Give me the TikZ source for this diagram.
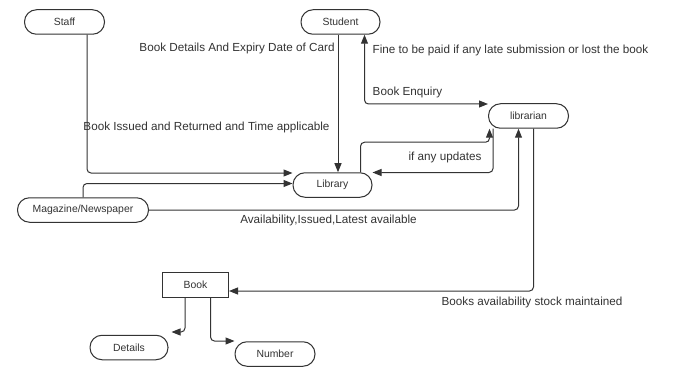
\documentclass[tikz,border=0pt]{standalone}
\usepackage{fontspec}
\setmainfont{Liberation Sans}
\usetikzlibrary{arrows.meta}
\definecolor{ink}{HTML}{333333}
\tikzset{
  pill/.style={draw=ink, line width=1pt, rounded corners=12pt, minimum width=80pt, minimum height=24.5pt, inner sep=0pt, text=ink, font=\fontsize{10.4}{12}\selectfont},
  boxnode/.style={draw=ink, line width=1pt, minimum width=66pt, minimum height=25pt, inner sep=0pt, text=ink, font=\fontsize{10.4}{12}\selectfont},
  lbl/.style={text=ink, inner sep=0pt, font=\fontsize{11.7}{14}\selectfont},
  conn/.style={draw=ink, line width=1pt, rounded corners=4pt},
  arr/.style={conn, -{Triangle[length=9pt,width=7pt]}},
  arrb/.style={conn, {Triangle[length=9pt,width=7pt]}-{Triangle[length=9pt,width=7pt]}}
}
\begin{document}
\begin{tikzpicture}[x=1pt,y=-1pt]
\useasboundingbox[fill=white] (0,0) rectangle (680,377);
% nodes
\node[pill] (staff) at (64.5,22) {Staff};
\node[pill, minimum width=79pt] (student) at (340.5,22) {Student};
\node[pill] (librarian) at (528.5,116) {librarian};
\node[pill, minimum width=79pt] (library) at (332.5,185) {Library};
\node[pill, minimum width=131pt] (mag) at (83,210) {Magazine/Newspaper};
\node[boxnode] (book) at (195.5,284.5) {Book};
\node[pill, minimum width=78pt] (details) at (129,347.5) {Details};
\node[pill] (number) at (275,354) {Number};
% helper coordinates
\coordinate (s1) at ([xshift=-2.5pt]student.south);
% connectors
\draw[arr] ([xshift=22.5pt]staff.south) |- ([yshift=12pt]library.west);
\draw[arr] (mag.north) |- ([yshift=1.5pt]library.west);
\draw[arr] (mag.east) -| ([xshift=-10pt]librarian.south);
\draw[arr] ([xshift=5pt]librarian.south) |- ([yshift=-6.5pt]book.east);
\draw[arr] ([xshift=28pt]library.north) -- ++(0,-30) -| ([xshift=-39pt]librarian.south);
\draw[arr] ([xshift=-35.5pt]librarian.south) |- ([yshift=12.5pt]library.east);
\draw[arr] (s1) -- (s1 |- library.north);
\draw[arrb] ([xshift=24pt]student.south) |- ([yshift=12pt]librarian.west);
\draw[arr] ([xshift=-10.5pt]book.south) |- ([xshift=3pt,yshift=15.5pt]details.east);
\draw[arr] ([xshift=15pt]book.south) |- ([yshift=13pt]number.west);
% labels
\node[lbl] (l1) at (237,48) {Book Details And Expiry Date of Card};
\node[lbl] (l2) at (206.5,127) {Book Issued and Returned and Time applicable};
\node[lbl] (l3) at (510.5,50) {Fine to be paid if any late submission or lost the book};
\node[lbl] (l4) at (407.5,92) {Book Enquiry};
\node[lbl] (l5) at (445,157) {if any updates};
\node[lbl] (l6) at (328.5,220) {Availability,Issued,Latest available};
\node[lbl] (l7) at (532,302) {Books availability stock maintained};
\end{tikzpicture}
\end{document}
